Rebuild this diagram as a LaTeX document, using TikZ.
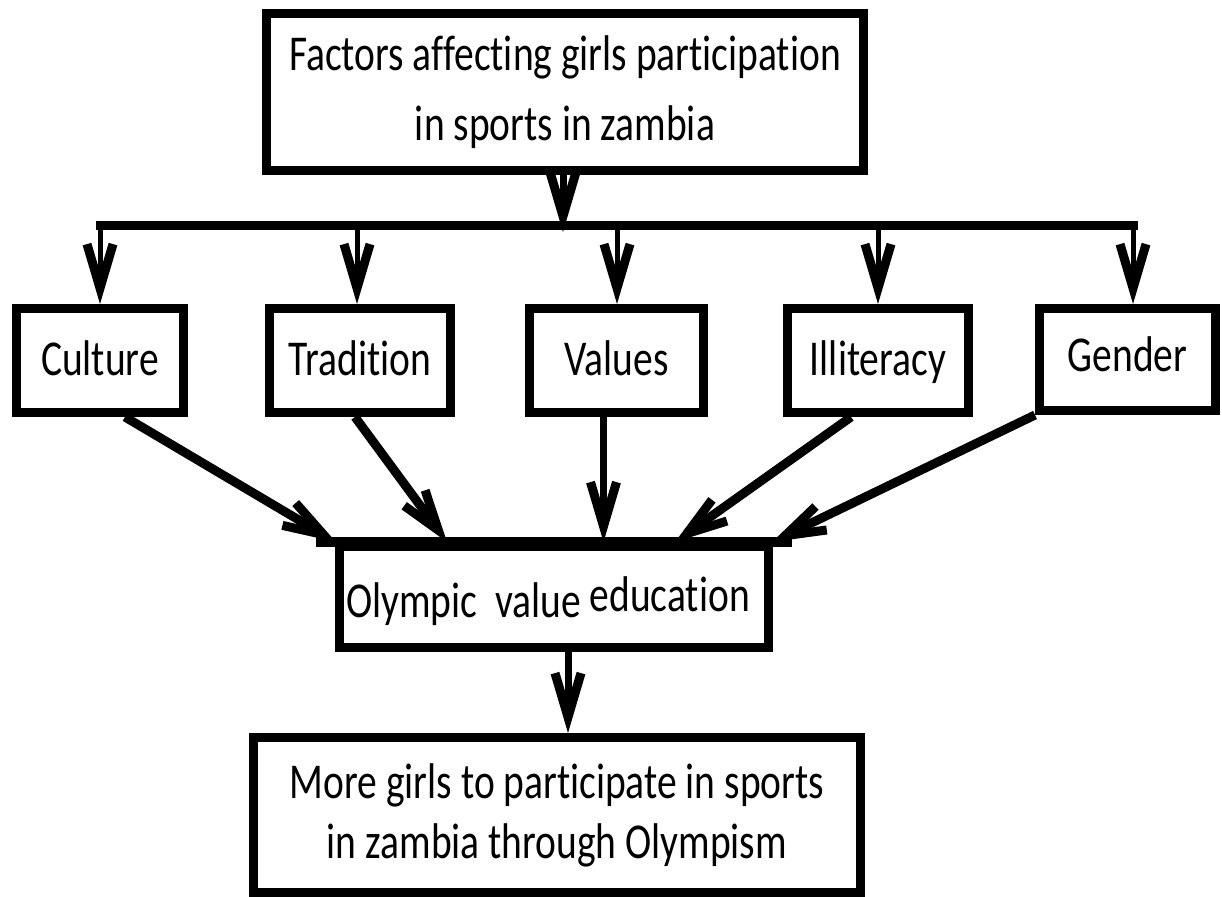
\documentclass[tikz,border=0pt]{standalone}
\usepackage{fontspec}
\setmainfont{Carlito}[Ligatures=NoCommon]
\usetikzlibrary{arrows.meta,calc}
\newcommand{\tall}[1]{\scalebox{1}[1.27]{#1}}
\tikzset{
  box/.style={draw=black, line width=9pt, fill=white, inner sep=0pt, align=center,
    font=\fontsize{39.5pt}{70pt}\selectfont},
  smallbox/.style={box, text height=36pt, text depth=6pt},
  arr/.style={line width=7pt, -{Straight Barb[length=44pt,width=26pt,line width=9pt]}},
  thinarr/.style={line width=5pt, -{Straight Barb[length=44pt,width=26pt,line width=9pt]}},
  diag/.style={line width=9pt, -{Straight Barb[length=40pt,width=26pt,line width=9pt]}},
  bus/.style={line width=9pt}
}
\begin{document}
\begin{tikzpicture}[x=1pt,y=-1pt]
\useasboundingbox (0,0) rectangle (1222,896);
% main boxes
\node[box, minimum width=597pt, minimum height=157pt] (top) at (565,92)
  {\tall{Factors affecting girls participation}\\\tall{in sports in zambia}};
\node[smallbox, minimum width=167pt, minimum height=104pt] (culture) at (100,360.5) {\tall{Culture}};
\node[smallbox, minimum width=181pt, minimum height=104pt] (tradition) at (360,360.5) {\tall{Tradition}};
\node[smallbox, minimum width=174pt, minimum height=104pt] (values) at (616.5,360.5) {\tall{Values}};
\node[smallbox, minimum width=181pt, minimum height=104pt] (illiteracy) at (878,360.5) {\tall{Illiteracy}};
\node[smallbox, minimum width=176pt, minimum height=102pt] (gender) at (1127.5,359.5) {\raisebox{3pt}{\tall{Gender}}};
\node[smallbox, text height=40pt, text depth=0pt, minimum width=429pt, minimum height=101pt] (olympic) at (554,597)
  {\tall{Olympic\ \ value \raisebox{4pt}{education}}\hspace*{12pt}};
\node[box, minimum width=607pt, minimum height=155pt,
  font=\fontsize{39.5pt}{60pt}\selectfont] (result) at (557,815)
  {\tall{More girls to participate in sports}\\\tall{in zambia through Olympism}};
% extended top edge of the Olympic box
\draw[line width=10pt] ([xshift=-19pt]olympic.north west) -- ([xshift=19pt]olympic.north east);
% bus
\coordinate (t1) at (563,225);
\coordinate (b1) at (100,225);
\coordinate (b2) at (357,225);
\coordinate (b3) at (617,225);
\coordinate (b4) at (878,225);
\coordinate (b5) at (1133,225);
\draw[bus] (96,225) -- (1137.5,225);
\draw[arr] (top.south -| t1) -- ([yshift=-7pt]t1);
\draw[thinarr] (b1) -- (b1 |- culture.north);
\draw[thinarr] (b2) -- (b2 |- tradition.north);
\draw[thinarr] (b3) -- (b3 |- values.north);
\draw[thinarr] (b4) -- (b4 |- illiteracy.north);
\draw[thinarr] (b5) -- (b5 |- gender.north);
% converging arrows
\coordinate (c1) at ([xshift=25pt]culture.south);
\coordinate (c2) at ([xshift=-5pt]tradition.south);
\coordinate (c3) at ([xshift=-13pt]values.south);
\coordinate (c4) at ([xshift=-27pt]illiteracy.south);
\coordinate (o1) at ([xshift=1pt]olympic.north west);
\coordinate (o2) at ([xshift=-107pt]olympic.north);
\coordinate (o4) at ([xshift=121pt]olympic.north);
\coordinate (o5) at ([xshift=-1pt]olympic.north east);
\draw[diag] (c1) -- (o1);
\draw[diag] (c2) -- (o2);
\draw[arr] (c3) -- (c3 |- olympic.north);
\draw[diag] (c4) -- (o4);
\draw[diag] (gender.south west) -- (o5);
% to result
\coordinate (r1) at ([xshift=14pt]olympic.south);
\draw[arr] (r1) -- (r1 |- result.north);
\end{tikzpicture}
\end{document}
